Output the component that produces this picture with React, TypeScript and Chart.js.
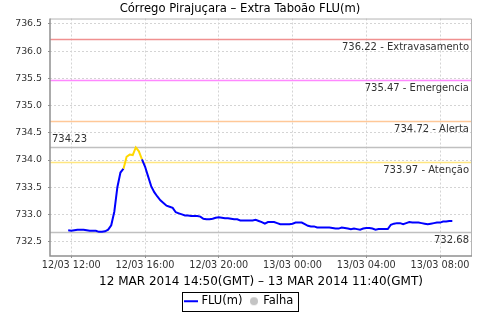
import { useEffect, useRef } from "react";
import { Chart, registerables } from "chart.js";

Chart.register(...registerables);

const FONT = "'DejaVu Sans', 'Liberation Sans', sans-serif";

const TITLE = "Córrego Pirajuçara – Extra Taboão FLU(m)";
const X_TITLE = "12 MAR 2014 14:50(GMT) – 13 MAR 2014 11:40(GMT)";
const SERIES_NAME = "FLU(m)";
const FAIL_NAME = "Falha";

// first reading at 12/03 11:50 (local), one reading every 10 minutes
const START_HOUR = 11 + 50 / 60;
const STEP_MINUTES = 10;

const levels = [
  732.71, 732.7, 732.71, 732.72, 732.72, 732.72, 732.71, 732.7, 732.7, 732.7,
  732.68, 732.68, 732.69, 732.72, 732.8, 733.05, 733.5, 733.77, 733.84, 734.06,
  734.1, 734.09, 734.23, 734.16, 734.01, 733.88, 733.7, 733.52, 733.41, 733.33,
  733.26, 733.21, 733.16, 733.14, 733.12, 733.04, 733.02, 733.0, 732.98, 732.98,
  732.97, 732.97, 732.97, 732.96, 732.92, 732.91, 732.91, 732.92, 732.94, 732.95,
  732.94, 732.93, 732.93, 732.92, 732.91, 732.91, 732.89, 732.89, 732.89, 732.89,
  732.89, 732.9, 732.88, 732.86, 732.83, 732.86, 732.86, 732.86, 732.84, 732.82,
  732.82, 732.82, 732.82, 732.83, 732.85, 732.85, 732.85, 732.82, 732.79, 732.78,
  732.78, 732.76, 732.76, 732.76, 732.76, 732.76, 732.75, 732.74, 732.74, 732.76,
  732.75, 732.74, 732.73, 732.74, 732.73, 732.72, 732.74, 732.75, 732.75, 732.74,
  732.72, 732.73, 732.73, 732.73, 732.73, 732.81, 732.83, 732.84, 732.84, 732.82,
  732.84, 732.86, 732.85, 732.85, 732.85, 732.84, 732.83, 732.82, 732.83, 732.84,
  732.85, 732.85, 732.87, 732.87, 732.88, 732.88,
];

const xTickHours = [12, 16, 20, 24, 28, 32];
const xTickLabels = ["12/03 12:00", "12/03 16:00", "12/03 20:00", "13/03 00:00", "13/03 04:00", "13/03 08:00"];
const yTicks = [732.5, 733.0, 733.5, 734.0, 734.5, 735.0, 735.5, 736.0, 736.5];

const thresholdValues = [736.22, 735.47, 734.72, 733.97];
const thresholdNames = ["Extravasamento", "Emergencia", "Alerta", "Atenção"];
const thresholdColors = ["#f09090", "#ff88ff", "#ffc898", "#ffe680"];

const MAX_LEVEL = 734.23;
const MIN_LEVEL = 732.68;

const ATTENTION = 733.97;

export default function App() {
  const ref = useRef<HTMLCanvasElement | null>(null);

  useEffect(() => {
    document.body.style.margin = "0";
    const canvas = ref.current;
    if (!canvas) return;

    const lineImg = document.createElement("canvas");
    lineImg.width = 14;
    lineImg.height = 4;
    const lc = lineImg.getContext("2d")!;
    lc.fillStyle = "#0000ff";
    lc.fillRect(0, 1, 14, 2);

    const dotImg = document.createElement("canvas");
    dotImg.width = 12;
    dotImg.height = 10;
    const dc = dotImg.getContext("2d")!;
    dc.fillStyle = "#c4c4c4";
    dc.beginPath();
    dc.arc(7, 5, 4, 0, Math.PI * 2);
    dc.fill();

    const points = levels.map((v, i) => ({ x: START_HOUR + (i * STEP_MINUTES) / 60, y: v }));

    const refLines = {
      id: "refLines",
      beforeDatasetsDraw(chart: any) {
        const { ctx, chartArea: a, scales } = chart;
        const y = scales.y;
        ctx.save();
        ctx.beginPath();
        ctx.rect(a.left, a.top, a.width, a.height);
        ctx.clip();
        ctx.lineWidth = 1.5;
        const hline = (v: number, color: string) => {
          const py = Math.round(y.getPixelForValue(v)) + 0.5;
          ctx.strokeStyle = color;
          ctx.beginPath();
          ctx.moveTo(a.left, py);
          ctx.lineTo(a.right, py);
          ctx.stroke();
        };
        hline(MAX_LEVEL, "#c0c0c0");
        hline(MIN_LEVEL, "#c0c0c0");
        thresholdValues.forEach((v, i) => hline(v, thresholdColors[i]));
        ctx.restore();

        ctx.save();
        ctx.font = `10px ${FONT}`;
        ctx.fillStyle = "#333333";
        ctx.textBaseline = "middle";
        ctx.textAlign = "right";
        thresholdValues.forEach((v, i) => {
          const py = y.getPixelForValue(v);
          ctx.fillText(`${v.toFixed(2)} - ${thresholdNames[i]}`, a.right - 3, py + 8.5);
        });
        ctx.fillText(MIN_LEVEL.toFixed(2), a.right - 3, y.getPixelForValue(MIN_LEVEL) + 8.5);
        ctx.textAlign = "left";
        ctx.fillText(MAX_LEVEL.toFixed(2), a.left + 2, y.getPixelForValue(MAX_LEVEL) - 8.5);
        ctx.restore();
      },
      afterDraw(chart: any) {
        const { ctx, chartArea: a, legend } = chart;
        ctx.save();
        // light frame on top and right
        ctx.strokeStyle = "#b4b4b4";
        ctx.lineWidth = 1;
        ctx.beginPath();
        ctx.moveTo(a.left, a.top + 0.5);
        ctx.lineTo(a.right - 0.5, a.top + 0.5);
        ctx.lineTo(a.right - 0.5, a.bottom);
        ctx.stroke();
        // solid axis lines on left and bottom
        ctx.strokeStyle = "#909090";
        ctx.lineWidth = 1.5;
        ctx.beginPath();
        ctx.moveTo(a.left, a.top);
        ctx.lineTo(a.left, a.bottom);
        ctx.lineTo(a.right, a.bottom);
        ctx.stroke();
        if (legend && legend.legendHitBoxes && legend.legendHitBoxes.length) {
          const hb = legend.legendHitBoxes;
          let l = Infinity, r = -Infinity, t = Infinity, b = -Infinity;
          hb.forEach((h: any) => {
            l = Math.min(l, h.left);
            r = Math.max(r, h.left + h.width);
            t = Math.min(t, h.top);
            b = Math.max(b, h.top + h.height);
          });
          ctx.strokeStyle = "#000000";
          ctx.lineWidth = 1;
          ctx.strokeRect(Math.round(l - 5) + 0.5, Math.round(t - 4) + 0.5, Math.round(r - l + 9), Math.round(b - t + 7));
        }
        ctx.restore();
      },
    };

    const chart = new Chart(canvas, {
      type: "line",
      data: {
        datasets: [
          {
            label: SERIES_NAME,
            data: points,
            borderColor: "#0000ff",
            backgroundColor: "#0000ff",
            borderWidth: 2,
            pointRadius: 0,
            tension: 0,
            segment: {
              borderColor: (c: any) => (c.p1.parsed.y > ATTENTION ? "#ffd800" : "#0000ff"),
            },
          },
          {
            label: FAIL_NAME,
            data: [],
            borderColor: "#c4c4c4",
            backgroundColor: "#c4c4c4",
            pointRadius: 0,
          },
        ],
      },
      options: {
        responsive: false,
        animation: false,
        devicePixelRatio: 1,
        layout: { padding: { top: 0, left: 8, right: 8, bottom: 3 } },
        plugins: {
          tooltip: { enabled: false },
          title: {
            display: true,
            text: TITLE,
            color: "#000000",
            font: { family: FONT, size: 11.6, weight: "normal" },
            padding: { top: 2, bottom: 2.6 },
          },
          legend: {
            position: "bottom",
            labels: {
              usePointStyle: true,
              pointStyleWidth: 9,
              boxHeight: 9,
              padding: 6,
              color: "#000000",
              font: { family: FONT, size: 11.5 },
              generateLabels: () => [
                { text: SERIES_NAME, pointStyle: lineImg as any, fillStyle: "#0000ff", strokeStyle: "#0000ff", lineWidth: 0, hidden: false, datasetIndex: 0 },
                { text: FAIL_NAME, pointStyle: dotImg as any, fillStyle: "#c4c4c4", strokeStyle: "#c4c4c4", lineWidth: 0, hidden: false, datasetIndex: 1 },
              ],
            },
          },
        },
        scales: {
          x: {
            type: "linear",
            min: 10.846,
            max: 33.734,
            afterFit: (scale: any) => {
              const lg = scale.chart.legend;
              scale.height = 320 - 256 - 3 - (lg ? lg.height : 0);
            },
            afterBuildTicks: (scale: any) => {
              scale.ticks = xTickHours.map((v) => ({ value: v }));
            },
            ticks: {
              autoSkip: false,
              maxRotation: 0,
              padding: 2,
              color: "#333333",
              font: { family: FONT, size: 9.7 },
              callback: (v: any) => {
                const i = xTickHours.indexOf(Number(v));
                return i >= 0 ? xTickLabels[i] : "";
              },
            },
            grid: { color: "#d4d4d4", lineWidth: 1, tickLength: 2, tickColor: "#909090", tickBorderDash: [] },
            border: { display: false, dash: [2, 2] },
            title: {
              display: true,
              text: X_TITLE,
              color: "#000000",
              font: { family: FONT, size: 12 },
              padding: { top: 0, bottom: 0 },
            },
          },
          y: {
            type: "linear",
            min: 732.236,
            max: 736.6,
            afterFit: (scale: any) => {
              scale.width = 42;
            },
            afterBuildTicks: (scale: any) => {
              scale.ticks = yTicks.map((v) => ({ value: v }));
            },
            ticks: {
              padding: 6,
              color: "#333333",
              font: { family: FONT, size: 9.4 },
              callback: (v: any) => Number(v).toFixed(1),
            },
            grid: { color: "#d4d4d4", lineWidth: 1, tickLength: 2, tickColor: "#909090", tickBorderDash: [] },
            border: { display: false, dash: [2, 2] },
          },
        },
      },
      plugins: [refLines],
    } as any);

    return () => chart.destroy();
  }, []);

  return (
    <div style={{ width: 480, height: 320, background: "#ffffff" }}>
      <canvas ref={ref} width={480} height={320} style={{ display: "block", width: 480, height: 320 }} />
    </div>
  );
}
